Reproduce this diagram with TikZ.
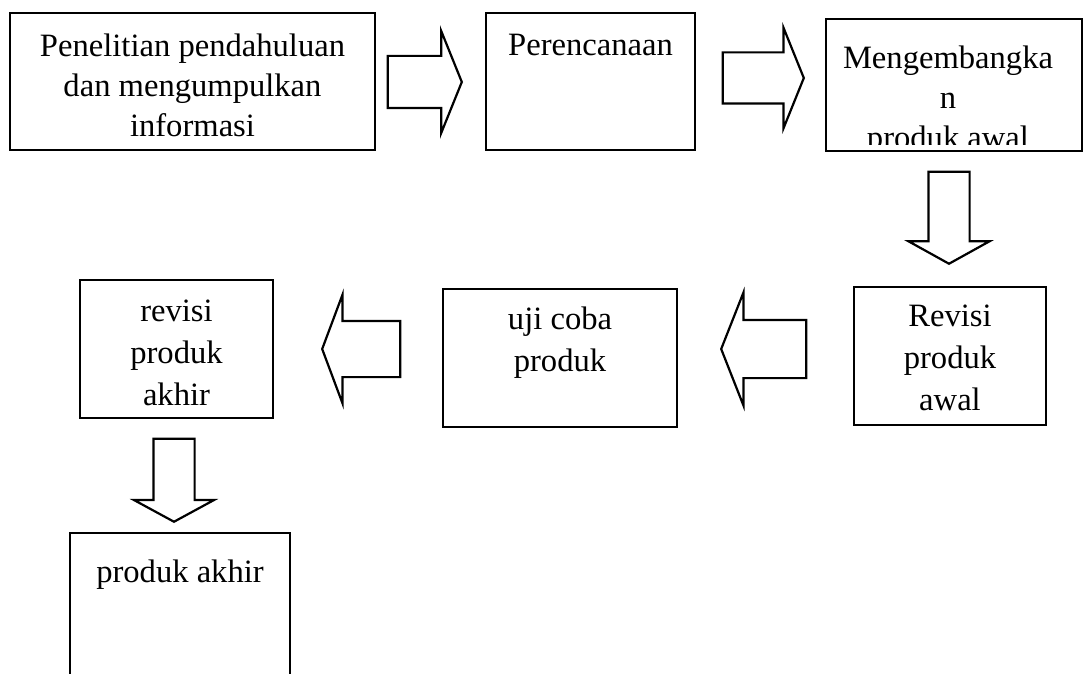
\documentclass[tikz,border=0pt]{standalone}
\usepackage{fontspec}
\setmainfont{Liberation Serif}
\usetikzlibrary{shapes.arrows,calc}

\begin{document}
\begin{tikzpicture}[x=1pt,y=-1pt,
  kotak/.style={draw,line width=2.2pt,inner sep=0pt},
  tulisan/.style={anchor=north,align=center,inner sep=0pt,font=\fontsize{32.6}{40}\selectfont},
  tulisanb/.style={tulisan,font=\fontsize{32.6}{42}\selectfont},
  panah/.style={single arrow,draw,line width=2.2pt,inner xsep=0pt,anchor=tip}]
  \clip (0,0) rectangle (1084,674);
  % baris atas
  \node[kotak,minimum width=365,minimum height=137] (b1) at (192.5,81.5) {};
  \node[tulisan] (t1) at ($(b1.north)+(0,22)$) {Penelitian pendahuluan\\dan mengumpulkan\\informasi};
  \node[kotak,minimum width=209,minimum height=137] (b2) at (590.5,81.5) {};
  \node[tulisan] (t2) at ($(b2.north)+(0,22)$) {Perencanaan};
  \node[kotak,minimum width=256,minimum height=132] (b3) at (954,85) {};
  \begin{scope}
    \clip (b3.north west) rectangle ($(b3.south east)+(0,-8)$);
    \node[tulisan] (t3) at ($(b3.north)+(-6,28)$) {Mengembangka\\n\\produk awal};
  \end{scope}
  % panah atas
  \node[panah,minimum height=74,inner ysep=25,single arrow head extend=25,single arrow tip angle=136] (a1) at (463,82) {};
  \node[panah,minimum height=81,inner ysep=24.5,single arrow head extend=24.5,single arrow tip angle=136] (a2) at (805,78) {};
  \node[panah,rotate=-90,minimum height=92,inner ysep=19.5,single arrow head extend=20,single arrow tip angle=122] (a3) at (949,265) {};
  % baris tengah
  \node[kotak,minimum width=192,minimum height=138] (b4) at (950,356) {};
  \node[tulisanb] (t4) at ($(b4.north)+(0,19)$) {Revisi\\produk\\awal};
  \node[kotak,minimum width=234,minimum height=138] (b5) at (560,358) {};
  \node[tulisanb] (t5) at ($(b5.north)+(0,19)$) {uji coba\\produk};
  \node[kotak,minimum width=193,minimum height=138] (b6) at (176.5,349) {};
  \node[tulisanb] (t6) at ($(b6.north)+(0,21)$) {revisi\\produk\\akhir};
  \node[panah,rotate=180,minimum height=85,inner ysep=28,single arrow head extend=27.5,single arrow tip angle=137] (a4) at (720,349) {};
  \node[panah,rotate=180,minimum height=78,inner ysep=27,single arrow head extend=26.5,single arrow tip angle=139] (a5) at (321,349) {};
  % bawah
  \node[panah,rotate=-90,minimum height=83,inner ysep=19.5,single arrow head extend=19.5,single arrow tip angle=123] (a6) at (174,523) {};
  \node[kotak,minimum width=220,minimum height=180] (b7) at (180,623) {};
  \node[tulisan] (t7) at ($(b7.north)+(0,28)$) {produk akhir};
\end{tikzpicture}
\end{document}
